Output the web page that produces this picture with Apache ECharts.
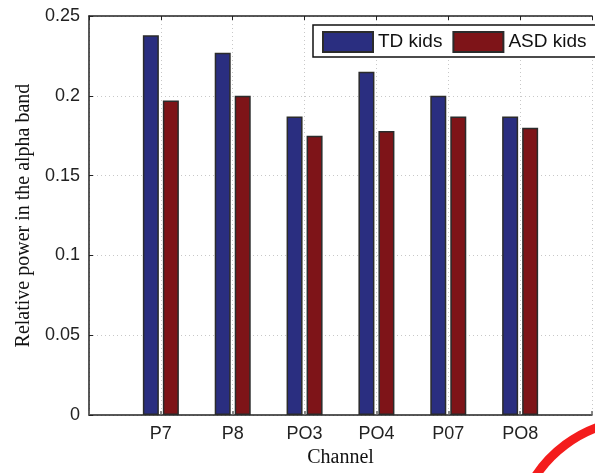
<!DOCTYPE html>
<html>
<head>
<meta charset="utf-8">
<script src="https://cdn.jsdelivr.net/npm/echarts@6/dist/echarts.min.js"></script>
<style>
  html, body { margin: 0; padding: 0; background: #fff; }
  #chart { width: 595px; height: 473px; }
</style>
</head>
<body>
<div id="chart"></div>
<script>
  // channels along the x axis, placed at positions 1..6 of a 0..7 scale
  var channels = ["P7", "P8", "PO3", "PO4", "P07", "PO8"];
  var tdKids  = [0.238, 0.227, 0.187, 0.215, 0.200, 0.187];
  var asdKids = [0.197, 0.200, 0.175, 0.178, 0.187, 0.180];
  var yTicks = [0, 0.05, 0.1, 0.15, 0.2, 0.25];

  var sans = "'Liberation Sans', Arial, sans-serif";
  var serif = "'Liberation Serif', 'Times New Roman', serif";

  function toPoints(vals) {
    return vals.map(function (v, i) { return [i + 1, v]; });
  }

  function channelLabel(v) {
    var idx = Math.round(v) - 1;
    return channels[idx] || "";
  }

  var gridLine = { show: true, lineStyle: { color: "#c8c8c8", type: [1, 3], width: 1 } };

  var option = {
    animation: false,
    grid: { left: 89, top: 16, width: 513, height: 405, containLabel: false },
    legend: {
      left: 313, top: 25,
      orient: "horizontal",
      padding: [6, 0, 6, 9],
      itemWidth: 50, itemHeight: 20, itemGap: 10,
      icon: "rect",
      textStyle: { fontFamily: sans, fontSize: 19, color: "#111" },
      data: ["TD kids", "ASD kids"]
    },
    xAxis: [{
      type: "value",
      min: 0, max: 7, interval: 1,
      name: "Channel",
      nameLocation: "middle",
      nameGap: 31,
      nameTextStyle: { fontFamily: serif, fontSize: 20, color: "#111" },
      axisLine: { show: true, lineStyle: { color: "#222", width: 1.5 } },
      axisTick: { show: true, inside: true, length: 4, lineStyle: { color: "#666", width: 1.5 } },
      axisLabel: { formatter: channelLabel, fontFamily: sans, fontSize: 18, color: "#222", margin: 10 },
      splitLine: gridLine
    }, {
      type: "value",
      position: "top",
      min: 0, max: 7, interval: 1,
      axisLine: { show: true, lineStyle: { color: "#222", width: 1.5 } },
      axisTick: { show: true, inside: true, length: 4, lineStyle: { color: "#222", width: 1 } },
      axisLabel: { show: false },
      splitLine: { show: false }
    }],
    yAxis: {
      type: "value",
      min: yTicks[0], max: yTicks[yTicks.length - 1], interval: 0.05,
      name: "Relative power in the alpha band",
      nameLocation: "middle",
      nameGap: 52,
      nameTextStyle: { fontFamily: serif, fontSize: 20, color: "#111" },
      axisLine: { show: true, lineStyle: { color: "#222", width: 1.5 } },
      axisTick: { show: true, inside: true, length: 4, lineStyle: { color: "#222", width: 1 } },
      axisLabel: {
        fontFamily: sans, fontSize: 18, color: "#222", margin: 9,
        formatter: function (v) { return String(+v.toFixed(2)); }
      },
      splitLine: gridLine
    },
    series: [{
      name: "TD kids",
      type: "bar",
      barWidth: 16,
      barGap: "25%",
      itemStyle: { color: "#2a2e80", borderColor: "#2b2b2b", borderWidth: 1.5 },
      data: toPoints(tdKids)
    }, {
      name: "ASD kids",
      type: "bar",
      barWidth: 16,
      barGap: "25%",
      itemStyle: { color: "#7e1418", borderColor: "#2b2b2b", borderWidth: 1.5 },
      data: toPoints(asdKids)
    }],
    graphic: [{
      // legend frame, runs off the right edge like the axes box
      type: "rect",
      silent: true,
      z: 3,
      shape: { x: 313, y: 25, width: 320, height: 32 },
      style: { fill: "#fff", stroke: "#111", lineWidth: 1.5 }
    }, {
      type: "arc",
      silent: true,
      z: 10,
      shape: { cx: 640, cy: 545, r: 125, startAngle: -2.8, endAngle: -1.62, clockwise: true },
      style: { stroke: "#f41c1c", lineWidth: 9, fill: null }
    }]
  };

  var chart = echarts.init(document.getElementById("chart"), null, { renderer: "canvas" });
  chart.setOption(option);
</script>
</body>
</html>
